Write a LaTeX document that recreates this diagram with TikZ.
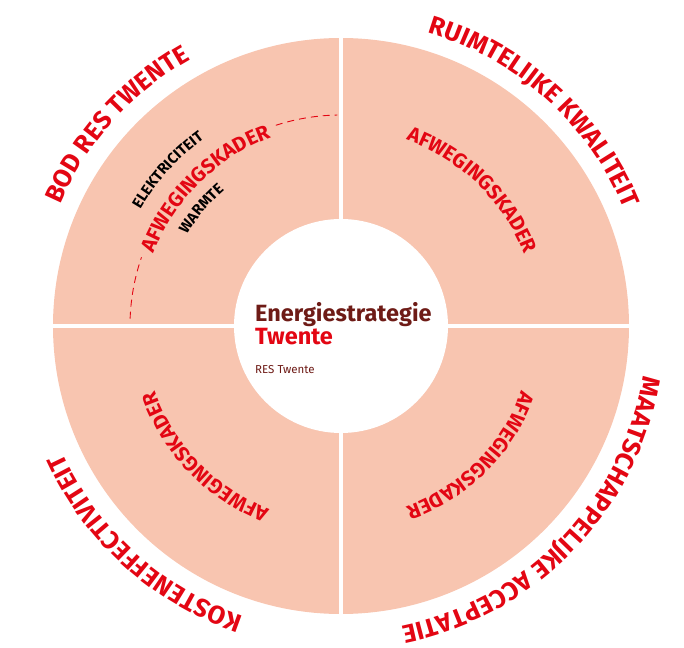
\documentclass[tikz,border=0pt]{standalone}
\usepackage{fontspec}
\setmainfont{Fira Sans}
\usetikzlibrary{decorations.text}
\definecolor{salmon}{HTML}{F8C5B0}
\definecolor{brandred}{HTML}{E30613}
\definecolor{darkred}{HTML}{6E1B16}
\newcommand\outerfont{\bfseries\fontsize{25.5}{26}\selectfont}
\newcommand\innerfont{\bfseries\fontsize{20.5}{21}\selectfont}
\newcommand\smallfont{\bfseries\fontsize{15}{16}\selectfont}
% #1 radius, #2 mid angle, #3 colour, #4 font, #5 text
\newcommand\curvedlabel[5]{%
  \path[decorate, decoration={text along path, text align=center,
      text color=#3, text={|#4|#5}}]
    ({#2+60}:#1) arc[start angle={#2+60}, end angle={#2-60}, radius=#1];}
\begin{document}
\begin{tikzpicture}[x=1pt,y=1pt]
\tikzset{
  ring/.style={fill=salmon},
  gapline/.style={draw=white, line width=3.5pt},
  hole/.style={fill=white},
  dasharc/.style={draw=brandred, line width=0.9pt, dash pattern=on 7pt off 5pt},
  title/.style={anchor=base west, inner sep=0pt, font=\bfseries\fontsize{23.5}{24}\selectfont},
  sub/.style={anchor=base west, inner sep=0pt, font=\fontsize{11.5}{12}\selectfont, text=darkred}
}
\useasboundingbox (-341,-321) rectangle (343,326);
% ring with quadrant gaps
\fill[ring] (0,0) circle[radius=288];
\path[gapline] (0,-290) -- (0,290) (-290,0) -- (290,0);
\fill[hole] (0,0) circle[radius=107];
% centre texts
\node[title, text=darkred] (t1) at (-86,4) {Energiestrategie};
\node[title, text=brandred] (t2) at (-86,-19) {Twente};
\node[sub] (t3) at (-86,-47) {RES Twente};
% outer labels
\curvedlabel{306}{138}{brandred}{\outerfont}{BOD RES TWENTE}
\curvedlabel{306}{48}{brandred}{\outerfont}{RUIMTELIJKE KWALITEIT}
\curvedlabel{306}{-44}{brandred}{\outerfont}{MAATSCHAPPELIJKE ACCEPTATIE}
\curvedlabel{306}{228}{brandred}{\outerfont}{KOSTENEFFECTIVITEIT}
% inner labels
\curvedlabel{201}{134.6}{brandred}{\innerfont}{AFWEGINGSKADER}
\curvedlabel{197}{46}{brandred}{\innerfont}{AFWEGINGSKADER}
\curvedlabel{192}{-45}{brandred}{\innerfont}{AFWEGINGSKADER}
\curvedlabel{197}{224}{brandred}{\innerfont}{AFWEGINGSKADER}
\curvedlabel{232}{138}{black}{\smallfont}{ELEKTRICITEIT}
\curvedlabel{179}{140}{black}{\smallfont}{WARMTE}
% dashed arc pieces
\path[dasharc] (178:211) arc[start angle=178, end angle=161, radius=211];
\path[dasharc] (108:211) arc[start angle=108, end angle=91, radius=211];
\end{tikzpicture}
\end{document}
